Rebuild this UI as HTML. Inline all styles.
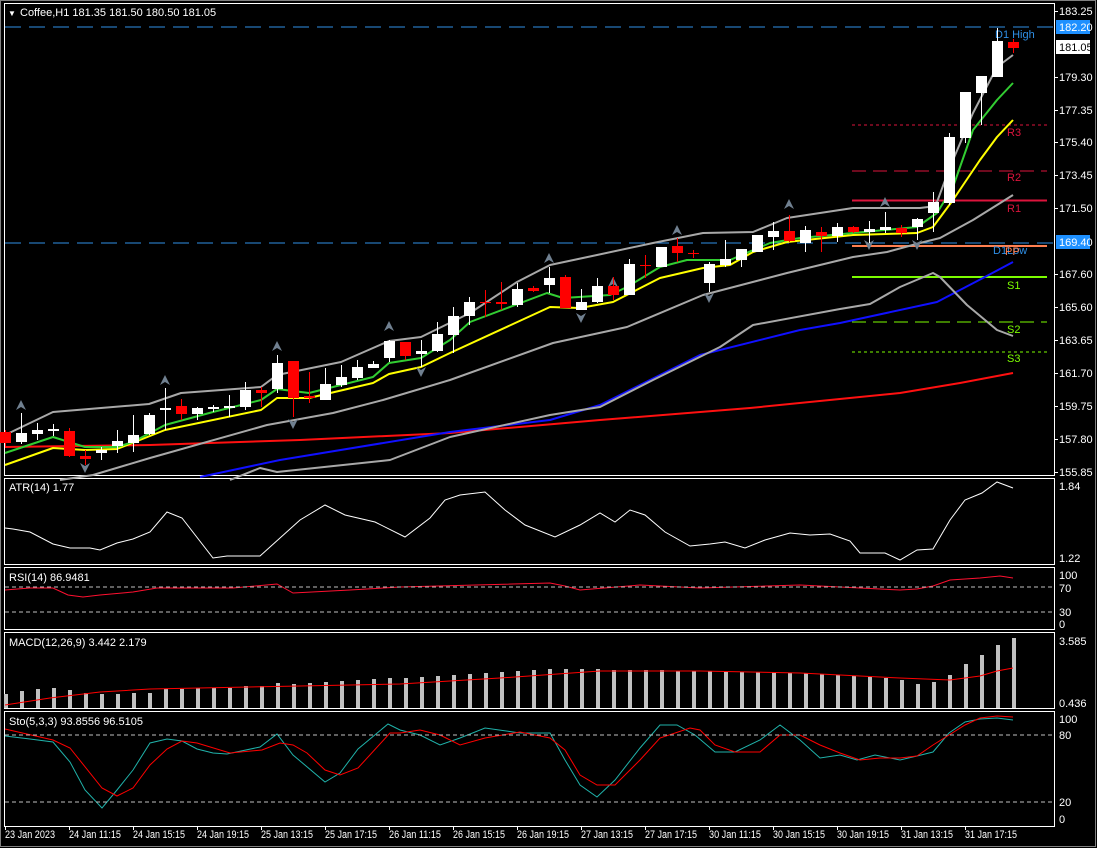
<!DOCTYPE html>
<html><head><meta charset="utf-8"><style>
html,body{margin:0;padding:0;background:#000;}
svg{display:block;font-family:"Liberation Sans",sans-serif;font-size:11px;}
</style></head><body>
<svg id="s" width="1097" height="848" viewBox="0 0 1097 848" xmlns="http://www.w3.org/2000/svg">
<rect x="0" y="0" width="1097" height="848" fill="#000"/>
<rect x="0.5" y="0.5" width="1095" height="846" fill="none" stroke="#808080"/>
<g fill="none" stroke="#fff" stroke-width="1">
<rect x="4.5" y="3.5" width="1050" height="472"/>
<rect x="4.5" y="478.5" width="1050" height="86"/>
<rect x="4.5" y="567.5" width="1050" height="62"/>
<rect x="4.5" y="632.5" width="1050" height="76"/>
<rect x="4.5" y="711.5" width="1050" height="115"/>
</g>
<line x1="5" y1="27" x2="1054" y2="27" stroke="#2f8fe6" stroke-dasharray="16,8"/>
<line x1="5" y1="243" x2="1054" y2="243" stroke="#2f8fe6" stroke-dasharray="16,8"/>
<line x1="852" y1="125" x2="1047" y2="125" stroke="#dc143c" stroke-dasharray="3,3"/>
<line x1="852" y1="171" x2="1047" y2="171" stroke="#dc143c" stroke-dasharray="14,7"/>
<line x1="852" y1="200.5" x2="1047" y2="200.5" stroke="#dc143c" stroke-width="2"/>
<line x1="852" y1="246" x2="1047" y2="246" stroke="#ff7f50" stroke-width="2"/>
<line x1="852" y1="277" x2="1047" y2="277" stroke="#7cfc00" stroke-width="2"/>
<line x1="852" y1="322" x2="1047" y2="322" stroke="#7cfc00" stroke-dasharray="14,7"/>
<line x1="852" y1="352" x2="1047" y2="352" stroke="#7cfc00" stroke-dasharray="3,3"/>
<g font-size="11">
<text x="995" y="38" fill="#2f8fe6">D1 High</text>
<text x="993" y="254" fill="#2f8fe6">D1Low</text>
<text x="1005" y="255" fill="#ff7f50">PP</text>
<text x="1007" y="136" fill="#dc143c">R3</text>
<text x="1007" y="181" fill="#dc143c">R2</text>
<text x="1007" y="212" fill="#dc143c">R1</text>
<text x="1007" y="289" fill="#7cfc00">S1</text>
<text x="1007" y="333" fill="#7cfc00">S2</text>
<text x="1007" y="362" fill="#7cfc00">S3</text>
</g>
<g id="lines" fill="none" stroke-linejoin="round"></g>
<g id="candles"></g>
<g id="subs" fill="none"></g>
<g stroke="#c0c0c0" stroke-dasharray="4,3">
<line x1="5" y1="587" x2="1054" y2="587"/>
<line x1="5" y1="612" x2="1054" y2="612"/>
<line x1="5" y1="735" x2="1054" y2="735"/>
<line x1="5" y1="802" x2="1054" y2="802"/>
</g>
<text x="8" y="16" fill="#fff" font-size="8">▼</text>
<text x="20" y="16" fill="#fff">Coffee,H1  181.35 181.50 180.50 181.05</text>
<text x="9" y="491" fill="#fff">ATR(14) 1.77</text>
<text x="9" y="581" fill="#fff">RSI(14) 86.9481</text>
<text x="9" y="646" fill="#fff">MACD(12,26,9) 3.442 2.179</text>
<text x="9" y="725" fill="#fff">Sto(5,3,3) 93.8556 96.5105</text>
<g fill="#fff">
<text x="1059" y="15">183.25</text>
<text x="1059" y="81">179.30</text>
<text x="1059" y="114">177.35</text>
<text x="1059" y="146">175.40</text>
<text x="1059" y="179">173.45</text>
<text x="1059" y="212">171.50</text>
<text x="1059" y="278">167.60</text>
<text x="1059" y="311">165.60</text>
<text x="1059" y="344">163.65</text>
<text x="1059" y="377">161.70</text>
<text x="1059" y="410">159.75</text>
<text x="1059" y="443">157.80</text>
<text x="1059" y="476">155.85</text>
<text x="1059" y="490">1.84</text>
<text x="1059" y="562">1.22</text>
<text x="1059" y="579">100</text>
<text x="1059" y="592">70</text>
<text x="1059" y="616">30</text>
<text x="1059" y="628">0</text>
<text x="1059" y="645">3.585</text>
<text x="1059" y="707">0.436</text>
<text x="1059" y="723">100</text>
<text x="1059" y="739">80</text>
<text x="1059" y="806">20</text>
<text x="1059" y="823">0</text>
</g>
<rect x="1056" y="20" width="34" height="14" fill="#1e90ff"/>
<text x="1059" y="31" fill="#fff">182.20</text>
<rect x="1056" y="40" width="34" height="14" fill="#fff"/>
<text x="1059" y="51" fill="#000">181.05</text>
<rect x="1056" y="235" width="34" height="14" fill="#1e90ff"/>
<text x="1059" y="246" fill="#fff">169.40</text>
<g id="ticks" stroke="#fff"></g>
<g fill="#fff" font-size="11">
<text x="5" y="838" textLength="50" lengthAdjust="spacingAndGlyphs">23 Jan 2023</text>
<text x="69" y="838" textLength="52" lengthAdjust="spacingAndGlyphs">24 Jan 11:15</text>
<text x="133" y="838" textLength="52" lengthAdjust="spacingAndGlyphs">24 Jan 15:15</text>
<text x="197" y="838" textLength="52" lengthAdjust="spacingAndGlyphs">24 Jan 19:15</text>
<text x="261" y="838" textLength="52" lengthAdjust="spacingAndGlyphs">25 Jan 13:15</text>
<text x="325" y="838" textLength="52" lengthAdjust="spacingAndGlyphs">25 Jan 17:15</text>
<text x="389" y="838" textLength="52" lengthAdjust="spacingAndGlyphs">26 Jan 11:15</text>
<text x="453" y="838" textLength="52" lengthAdjust="spacingAndGlyphs">26 Jan 15:15</text>
<text x="517" y="838" textLength="52" lengthAdjust="spacingAndGlyphs">26 Jan 19:15</text>
<text x="581" y="838" textLength="52" lengthAdjust="spacingAndGlyphs">27 Jan 13:15</text>
<text x="645" y="838" textLength="52" lengthAdjust="spacingAndGlyphs">27 Jan 17:15</text>
<text x="709" y="838" textLength="52" lengthAdjust="spacingAndGlyphs">30 Jan 11:15</text>
<text x="773" y="838" textLength="52" lengthAdjust="spacingAndGlyphs">30 Jan 15:15</text>
<text x="837" y="838" textLength="52" lengthAdjust="spacingAndGlyphs">30 Jan 19:15</text>
<text x="901" y="838" textLength="52" lengthAdjust="spacingAndGlyphs">31 Jan 13:15</text>
<text x="965" y="838" textLength="52" lengthAdjust="spacingAndGlyphs">31 Jan 17:15</text>
</g>
</svg>
<script>
var NS="http://www.w3.org/2000/svg";
function el(p,t,a){var e=document.createElementNS(NS,t);for(var k in a)e.setAttribute(k,a[k]);p.appendChild(e);return e;}
function pl(p,pts,c,w){el(p,"polyline",{points:pts.map(function(q){return q.join(",")}).join(" "),stroke:c,"stroke-width":w||1,fill:"none"});}
var L=document.getElementById("lines");
pl(L,[[5,447],[150,445],[300,440],[450,433],[600,420],[750,408],[900,393],[960,383],[1013,373]],"#ff1010",2);
pl(L,[[200,477],[280,460],[450,432],[550,420],[600,405],[700,355],[800,330],[840,323],[937,302],[983,278],[1013,262]],"#1010ff",2);
pl(L,[[230,480],[260,468],[277,472],[390,460],[450,437],[550,415],[600,407],[653,380],[720,347],[753,325],[840,309],[870,304],[900,287],[933,273],[940,277],[967,305],[997,330],[1013,336]],"#a8a8a8",2);
pl(L,[[60,480],[93,475],[150,458],[267,425],[333,413],[383,400],[450,380],[553,343],[627,327],[703,295],[787,273],[853,257],[887,252],[920,243],[940,238],[973,220],[1013,195]],"#a8a8a8",2);
pl(L,[[5,435],[53,412],[149,404],[181,393],[261,387],[277,375],[341,362],[389,341],[421,337],[470,313],[517,282],[550,265],[597,255],[653,243],[703,233],[753,232],[787,218],[853,208],[920,208],[928,207],[937,202],[950,167],[973,113],[997,67],[1013,55]],"#a8a8a8",2);
pl(L,[[5,465],[53,448],[85,450],[117,449],[165,430],[261,410],[277,398],[309,398],[373,383],[389,374],[421,367],[450,353],[550,307],[580,308],[613,302],[660,278],[703,268],[730,265],[753,252],[787,242],[853,235],[917,233],[933,227],[953,200],[980,160],[997,137],[1013,120]],"#ffff00",2);
pl(L,[[5,453],[53,437],[85,447],[117,447],[133,442],[165,425],[213,412],[261,400],[277,389],[309,393],[373,377],[389,363],[421,358],[450,340],[470,322],[547,293],[563,298],[610,295],[627,287],[660,267],[687,260],[730,260],[770,243],[800,238],[853,233],[917,227],[937,213],[953,187],[973,130],[997,100],[1013,83]],"#32cd32",2);
[[21,405],[165,380],[277,346],[389,326],[549,258],[677,230],[789,204],[885,202],[613,282]].forEach(function(f){el(L,"path",{d:"M"+(f[0]-5)+","+(f[1]+5)+" L"+f[0]+","+(f[1]-5)+" L"+(f[0]+5)+","+(f[1]+5)+" L"+f[0]+","+(f[1]+2)+"Z",fill:"#708090",stroke:"none"});});
[[85,468],[293,424],[421,372],[581,318],[709,298],[869,245],[917,245]].forEach(function(f){el(L,"path",{d:"M"+(f[0]-5)+","+(f[1]-5)+" L"+f[0]+","+(f[1]+5)+" L"+(f[0]+5)+","+(f[1]-5)+" L"+f[0]+","+(f[1]-2)+"Z",fill:"#708090",stroke:"none"});});
var C=[[432,443,430,446,0],[433,442,413,444,1],[430,434,423,440,1],[429,431,424,436,1],[431,456,428,457,0],[456,459,450,465,0],[450,453,447,460,1],[441,446,430,453,1],[435,443,415,452,1],[415,434,413,435,1],[408,410,388,430,1],[406,414,399,420,0],[408,414,407,420,1],[407,409,405,412,1],[406,408,395,417,1],[390,407,382,410,1],[390,393,387,407,0],[363,389,355,393,1],[361,398,361,417,0],[396,398,372,403,0],[384,400,368,400,1],[377,385,365,387,1],[367,378,360,380,1],[364,368,361,368,1],[341,358,340,362,1],[342,356,342,360,0],[351,354,340,367,1],[334,351,322,352,1],[316,335,307,353,1],[302,316,297,325,1],[302,303,290,317,0],[302,304,282,310,0],[289,305,283,307,1],[288,291,286,292,0],[278,285,267,293,1],[277,308,275,308,0],[302,310,289,310,1],[286,302,278,303,1],[286,295,277,300,0],[264,295,259,295,1],[265,266,255,278,0],[247,267,247,267,1],[246,253,238,262,0],[253,254,250,258,0],[264,283,262,292,1],[259,265,240,267,1],[249,260,249,267,1],[235,252,235,252,1],[231,237,222,250,1],[231,241,215,242,0],[230,243,226,252,1],[232,236,227,252,0],[227,236,223,242,1],[227,232,226,233,0],[229,232,221,243,1],[227,230,212,233,1],[228,233,225,237,0],[219,227,218,240,1],[202,213,192,232,1],[137,203,133,205,1],[92,138,92,143,1],[76,93,76,125,1],[41,77,28,77,1],[42,48,39,53,0]];
var G=document.getElementById("candles");
C.forEach(function(c,i){var x=5+16*i,col=c[4]?"#fff":"#ff0000";
el(G,"line",{x1:x+.5,y1:c[2],x2:x+.5,y2:c[3],stroke:col});
var h=Math.max(c[1]-c[0],1);el(G,"rect",{x:x-5,y:c[0],width:11,height:h,fill:col});});
var S=document.getElementById("subs");
pl(S,[[5,528],[13,529],[30,532],[53,544],[70,548],[90,548],[100,550],[117,543],[133,539],[150,532],[167,512],[182,518],[213,558],[227,556],[260,556],[300,520],[325,505],[345,515],[375,522],[405,537],[430,518],[445,500],[460,495],[485,492],[505,510],[525,525],[555,537],[580,525],[600,513],[615,522],[630,510],[645,515],[665,532],[690,546],[710,544],[725,542],[745,548],[765,540],[790,533],[810,535],[830,534],[850,541],[860,553],[885,553],[900,560],[917,550],[933,549],[950,520],[965,500],[982,493],[997,482],[1013,488]],"#fff",1);
pl(S,[[5,590],[30,588],[53,588],[68,595],[83,597],[100,595],[133,592],[157,588],[233,588],[277,584],[293,593],[350,590],[400,587],[550,583],[565,586],[580,590],[640,585],[700,588],[800,585],[900,590],[917,589],[933,586],[950,580],[980,578],[1000,576],[1013,578]],"#ff1030",1);
var M=[694,691,689,688,690,693,694,694,693,693,689,689,688,688,688,686,686,683,684,
683,682,681,680,679,678,678,677,676,675,674,673,672,
671,670,669,669,669,669,670,670,670,670,671,671,671,672,672,672,672,673,673,674,675,676,677,678,680,
684,682,675,664,655,645,638];
for(var i=0;i<64;i++){var x=5+16*i;el(S,"rect",{x:x-1,y:M[i],width:4,height:708-M[i],fill:"#c0c0c0"});}
pl(S,[[5,705],[50,698],[100,692],[150,689],[300,686],[400,684],[500,678],[600,671],[700,671],[800,673],[900,678],[950,680],[980,676],[997,671],[1013,668]],"#ff0000",1);
pl(S,[[5,736],[30,739],[53,742],[70,762],[85,790],[102,808],[117,790],[133,770],[150,743],[167,739],[182,741],[197,749],[213,753],[227,754],[260,747],[277,734],[293,755],[325,782],[340,773],[358,749],[388,724],[400,730],[420,735],[440,745],[460,738],[485,728],[520,733],[550,733],[565,760],[580,785],[597,797],[615,780],[640,748],[660,725],[677,725],[695,735],[715,752],[735,752],[760,740],[780,725],[800,740],[820,758],[840,755],[857,760],[875,755],[900,760],[917,756],[933,752],[949,733],[965,722],[980,719],[997,718],[1013,720]],"#20b2aa",1);
pl(S,[[5,729],[53,740],[70,748],[102,788],[117,796],[133,788],[150,765],[167,749],[182,741],[197,743],[230,753],[262,750],[280,743],[293,745],[307,753],[325,770],[340,775],[358,768],[390,733],[400,733],[420,730],[440,735],[460,745],[485,738],[520,732],[550,738],[565,750],[580,775],[597,785],[615,785],[640,760],[660,738],[690,728],[700,730],[715,745],[735,752],[760,752],[780,735],[800,735],[820,745],[840,753],[860,760],[880,758],[900,758],[917,756],[933,745],[949,735],[965,725],[980,718],[997,716],[1013,717]],"#ff0000",1);
var T=document.getElementById("ticks");
[11,77,110,142,175,208,274,307,340,373,406,439,472].forEach(function(y){el(T,"line",{x1:1055,y1:y+.5,x2:1058,y2:y+.5});});
for(var k=0;k<16;k++){var x=5+64*k+.5;el(T,"line",{x1:x,y1:826,x2:x,y2:830});}
</script>
</body></html>
